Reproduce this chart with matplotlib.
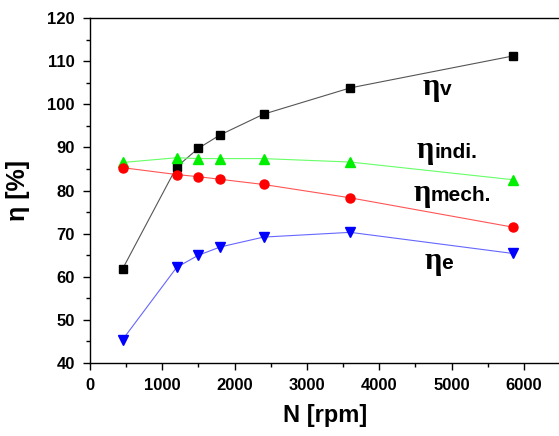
import matplotlib
matplotlib.use("Agg")
import matplotlib.pyplot as plt
from matplotlib.ticker import MultipleLocator

plt.rcParams['font.family'] = ['Liberation Sans', 'DejaVu Sans']

# engine speed [rpm]
rpm = [450, 1200, 1500, 1800, 2400, 3600, 5850]

eta_v = [61.8, 85.5, 89.8, 92.9, 97.7, 103.8, 111.2]
eta_indi = [86.5, 87.6, 87.4, 87.4, 87.4, 86.6, 82.5]
eta_mech = [85.3, 83.7, 83.2, 82.6, 81.4, 78.3, 71.5]
eta_e = [45.4, 62.2, 65.0, 66.9, 69.2, 70.3, 65.4]

fig = plt.figure(figsize=(5.59, 4.36), dpi=100)
ax = fig.add_axes([0.161, 0.1674, 0.8408, 0.7913])

ax.plot(rpm, eta_v, color="#555555", lw=0.8, marker="s", ms=6, mfc="black", mec="black")
ax.plot(rpm, eta_indi, color="#66ff66", lw=0.8, marker="^", ms=7, mfc="#00ee00", mec="#00ee00")
ax.plot(rpm, eta_mech, color="#ff5555", lw=0.8, marker="o", ms=6.5, mfc="red", mec="red")
ax.plot(rpm, eta_e, color="#6666ff", lw=0.8, marker="v", ms=7, mfc="blue", mec="blue")

# curve labels
labels = [("v", 4606, 102.1), ("indi.", 4518, 87.5), ("mech.", 4470, 77.6), ("e", 4620, 61.8)]
for sub, x, y in labels:
    ax.text(x, y, "η", fontsize=22, fontweight="bold", family=["Liberation Serif"], ha="left", va="baseline")
    ax.annotate(sub, xy=(x, y), xytext=(12.5, 0), textcoords="offset points",
                fontsize=15, fontweight="bold", ha="left", va="baseline")

ax.set_xlim(0, 6500)
ax.set_ylim(40, 120)
ax.xaxis.set_major_locator(MultipleLocator(1000))
ax.xaxis.set_minor_locator(MultipleLocator(500))
ax.yaxis.set_major_locator(MultipleLocator(10))
ax.yaxis.set_minor_locator(MultipleLocator(5))
ax.tick_params(which="major", direction="out", length=5, width=1, labelsize=12, pad=6)
ax.tick_params(which="minor", direction="out", length=3, width=1)
for lab in ax.get_xticklabels() + ax.get_yticklabels():
    lab.set_fontweight("bold")
ax.spines["right"].set_visible(False)
for s in ["left", "bottom", "top"]:
    ax.spines[s].set_linewidth(1)

ax.set_xlabel("N [rpm]", fontsize=17, fontweight="bold", labelpad=8)
ax.set_ylabel("η [%]", fontsize=18, fontweight="bold", labelpad=12)

fig.savefig("out.png", dpi=100)
